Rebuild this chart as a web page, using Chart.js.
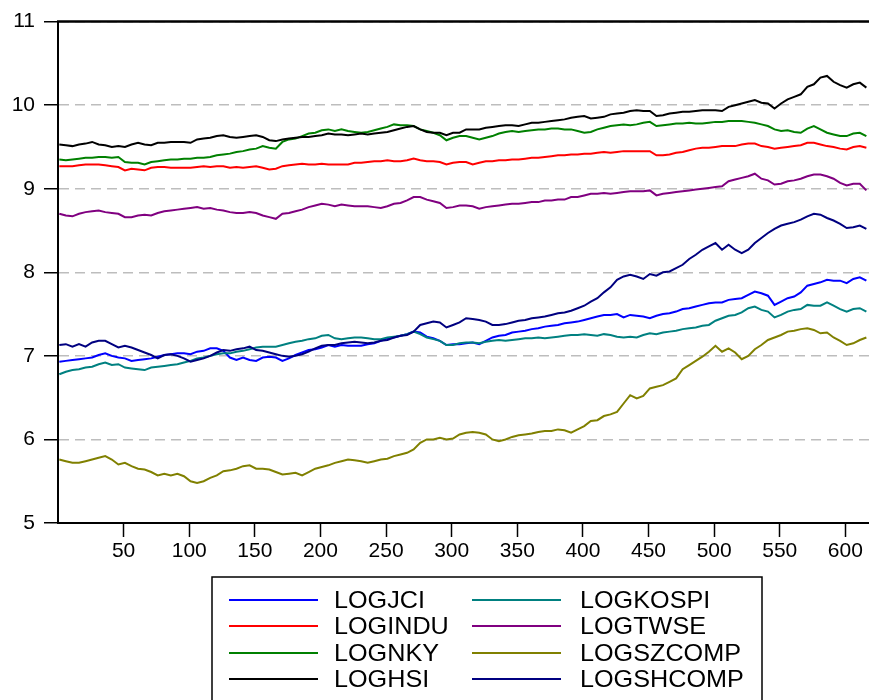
<!DOCTYPE html>
<html>
<head>
<meta charset="utf-8">
<script src="https://cdn.jsdelivr.net/npm/chart.js@4.4.1/dist/chart.umd.min.js"></script>
<style>
  html, body { margin: 0; padding: 0; background: #ffffff; }
  #wrap { width: 869px; height: 700px; position: relative; }
  canvas { display: block; }
</style>
</head>
<body>
<div id="wrap"><canvas id="chart" width="869" height="700"></canvas></div>
<script>
// Observation index: every 5th trading day starting at observation 1
const obsFirst = 1;
const obsStep = 5;

const seriesNames = ['LOGJCI', 'LOGINDU', 'LOGNKY', 'LOGHSI', 'LOGKOSPI', 'LOGTWSE', 'LOGSZCOMP', 'LOGSHCOMP'];
const seriesColors = ['#0000ff', '#ff0000', '#008000', '#000000', '#008080', '#800080', '#808000', '#000080'];

const logJCI = [
  6.93,6.94,6.95,6.96,6.97,6.98,7.01,7.03,7.00,6.98,
  6.97,6.94,6.95,6.96,6.97,6.99,7.01,7.02,7.03,7.03,
  7.02,7.05,7.06,7.09,7.09,7.06,6.98,6.95,6.98,6.95,
  6.94,6.98,6.99,6.98,6.94,6.97,7.01,7.04,7.07,7.08,
  7.10,7.13,
  7.11,7.13,7.12,7.12,7.12,7.14,7.15,7.18,7.21,7.22,
  7.24,7.26,7.29,7.28,7.23,7.21,7.18,7.13,7.14,7.14,
  7.15,7.16,7.14,7.18,7.22,7.24,7.25,7.28,7.29,7.30,
  7.32,7.33,7.35,7.36,7.37,7.39,7.40,7.41,7.43,7.45,
  7.47,7.49,
  7.49,7.50,7.46,7.49,7.48,7.47,7.45,7.48,7.50,7.51,
  7.53,7.56,7.57,7.59,7.61,7.63,7.64,7.64,7.67,7.68,
  7.69,7.73,7.77,7.75,7.72,7.61,7.65,7.69,7.71,7.76,
  7.84,7.86,7.88,7.91,7.90,7.90,7.87,7.92,7.94,7.90
];

const logINDU = [
  9.27,9.27,9.27,9.28,9.29,9.29,9.29,9.28,9.27,9.26,
  9.22,9.24,9.23,9.22,9.25,9.26,9.26,9.25,9.25,9.25,
  9.25,9.26,9.27,9.26,9.27,9.27,9.25,9.26,9.25,9.26,
  9.27,9.25,9.23,9.24,9.27,9.28,9.29,9.30,9.29,9.29,
  9.30,9.29,
  9.29,9.29,9.29,9.31,9.31,9.32,9.33,9.33,9.34,9.33,
  9.33,9.34,9.36,9.34,9.33,9.33,9.32,9.29,9.31,9.32,
  9.32,9.29,9.31,9.33,9.33,9.34,9.34,9.35,9.35,9.36,
  9.37,9.37,9.38,9.39,9.40,9.40,9.41,9.41,9.42,9.42,
  9.43,9.44,
  9.43,9.44,9.45,9.45,9.45,9.45,9.45,9.40,9.40,9.41,
  9.43,9.44,9.46,9.48,9.49,9.49,9.50,9.51,9.51,9.51,
  9.53,9.54,9.54,9.51,9.50,9.48,9.49,9.50,9.51,9.52,
  9.55,9.55,9.53,9.51,9.50,9.48,9.47,9.50,9.51,9.49
];

const logNKY = [
  9.35,9.34,9.35,9.36,9.37,9.37,9.38,9.38,9.37,9.38,
  9.32,9.31,9.31,9.29,9.32,9.33,9.34,9.35,9.35,9.36,
  9.36,9.37,9.37,9.38,9.40,9.41,9.42,9.44,9.45,9.47,
  9.48,9.51,9.49,9.48,9.56,9.59,9.60,9.63,9.66,9.67,
  9.70,9.71,
  9.69,9.71,9.69,9.68,9.67,9.68,9.70,9.72,9.74,9.77,
  9.76,9.76,9.75,9.71,9.69,9.67,9.64,9.58,9.61,9.63,
  9.63,9.61,9.59,9.61,9.63,9.66,9.68,9.69,9.68,9.69,
  9.70,9.71,9.71,9.72,9.72,9.71,9.71,9.69,9.67,9.68,
  9.71,9.73,
  9.75,9.76,9.77,9.76,9.77,9.79,9.80,9.75,9.76,9.77,
  9.78,9.78,9.79,9.78,9.78,9.79,9.80,9.80,9.81,9.81,
  9.81,9.80,9.79,9.77,9.75,9.71,9.69,9.70,9.68,9.67,
  9.72,9.75,9.71,9.67,9.65,9.63,9.63,9.66,9.67,9.63
];

const logHSI = [
  9.53,9.52,9.51,9.53,9.54,9.56,9.53,9.52,9.50,9.51,
  9.50,9.53,9.55,9.53,9.52,9.55,9.55,9.56,9.56,9.56,
  9.55,9.59,9.60,9.61,9.63,9.64,9.62,9.61,9.62,9.63,
  9.64,9.62,9.58,9.57,9.59,9.60,9.61,9.62,9.62,9.63,
  9.64,9.66,
  9.65,9.65,9.64,9.65,9.66,9.65,9.66,9.67,9.68,9.70,
  9.72,9.74,9.75,9.71,9.68,9.67,9.67,9.64,9.67,9.67,
  9.71,9.71,9.71,9.73,9.74,9.75,9.76,9.76,9.75,9.77,
  9.79,9.79,9.80,9.81,9.82,9.83,9.85,9.86,9.87,9.84,
  9.85,9.86,
  9.89,9.90,9.91,9.93,9.94,9.93,9.93,9.87,9.88,9.90,
  9.91,9.92,9.92,9.93,9.94,9.94,9.94,9.93,9.98,10.00,
  10.02,10.04,10.06,10.03,10.02,9.96,10.02,10.07,10.10,10.13,
  10.22,10.25,10.33,10.35,10.28,10.24,10.21,10.25,10.27,10.21
];

const logKOSPI = [
  6.78,6.81,6.83,6.84,6.86,6.87,6.90,6.92,6.89,6.90,
  6.86,6.85,6.84,6.83,6.86,6.87,6.88,6.89,6.90,6.92,
  6.94,6.97,6.98,7.00,7.02,7.03,7.03,7.05,7.06,7.08,
  7.10,7.11,7.11,7.11,7.13,7.15,7.17,7.18,7.20,7.21,
  7.24,7.25,
  7.21,7.20,7.21,7.22,7.22,7.21,7.20,7.20,7.22,7.23,
  7.24,7.26,7.29,7.26,7.22,7.20,7.18,7.13,7.13,7.15,
  7.16,7.16,7.15,7.17,7.18,7.19,7.18,7.19,7.20,7.21,
  7.21,7.22,7.21,7.22,7.23,7.24,7.25,7.25,7.26,7.25,
  7.24,7.26,
  7.25,7.23,7.22,7.23,7.22,7.25,7.27,7.26,7.28,7.29,
  7.30,7.32,7.33,7.34,7.36,7.37,7.42,7.45,7.48,7.49,
  7.52,7.57,7.59,7.55,7.53,7.46,7.49,7.53,7.55,7.56,
  7.61,7.60,7.60,7.64,7.60,7.56,7.53,7.56,7.57,7.53
];

const logTWSE = [
  8.70,8.68,8.67,8.70,8.72,8.73,8.74,8.72,8.71,8.70,
  8.66,8.66,8.68,8.69,8.68,8.71,8.73,8.74,8.75,8.76,
  8.77,8.78,8.76,8.77,8.75,8.74,8.72,8.71,8.71,8.72,
  8.71,8.68,8.66,8.64,8.70,8.71,8.73,8.75,8.78,8.80,
  8.82,8.81,
  8.79,8.81,8.80,8.79,8.79,8.79,8.78,8.77,8.79,8.82,
  8.83,8.86,8.90,8.90,8.87,8.85,8.83,8.77,8.78,8.80,
  8.80,8.79,8.76,8.78,8.79,8.80,8.81,8.82,8.82,8.83,
  8.84,8.84,8.86,8.86,8.87,8.87,8.90,8.90,8.92,8.94,
  8.94,8.95,
  8.94,8.95,8.96,8.97,8.97,8.97,8.98,8.92,8.94,8.95,
  8.96,8.97,8.98,8.99,9.00,9.01,9.02,9.03,9.09,9.11,
  9.13,9.15,9.18,9.12,9.10,9.05,9.06,9.09,9.10,9.12,
  9.15,9.17,9.17,9.15,9.12,9.07,9.04,9.06,9.06,8.98
];

const logSZCOMP = [
  5.76,5.74,5.72,5.72,5.74,5.76,5.78,5.80,5.76,5.70,
  5.72,5.68,5.65,5.64,5.61,5.57,5.59,5.57,5.59,5.56,
  5.50,5.48,5.50,5.54,5.57,5.62,5.63,5.65,5.68,5.69,
  5.65,5.65,5.64,5.61,5.58,5.59,5.60,5.57,5.61,5.65,
  5.67,5.69,
  5.72,5.74,5.76,5.75,5.74,5.72,5.74,5.76,5.77,5.80,
  5.82,5.84,5.88,5.96,6.00,6.00,6.02,6.00,6.01,6.06,
  6.08,6.09,6.08,6.06,6.00,5.98,6.00,6.03,6.05,6.06,
  6.07,6.09,6.10,6.10,6.12,6.11,6.08,6.12,6.16,6.22,
  6.23,6.28,
  6.30,6.33,6.43,6.53,6.49,6.52,6.61,6.63,6.65,6.69,
  6.73,6.84,6.89,6.94,6.99,7.05,7.12,7.05,7.09,7.04,
  6.96,7.00,7.08,7.13,7.19,7.22,7.25,7.29,7.30,7.32,
  7.33,7.31,7.27,7.28,7.22,7.18,7.13,7.15,7.19,7.22
];

const logSHCOMP = [
  7.13,7.14,7.11,7.14,7.11,7.16,7.18,7.18,7.14,7.10,
  7.12,7.10,7.07,7.04,7.01,6.97,7.01,7.02,7.00,6.97,
  6.93,6.95,6.97,7.00,7.04,7.07,7.06,7.08,7.09,7.11,
  7.07,7.06,7.04,7.02,7.00,6.99,7.00,7.02,7.05,7.09,
  7.12,7.13,
  7.13,7.15,7.16,7.17,7.16,7.15,7.16,7.18,7.19,7.22,
  7.24,7.25,7.29,7.37,7.39,7.41,7.40,7.34,7.37,7.40,
  7.45,7.44,7.43,7.41,7.37,7.37,7.38,7.40,7.42,7.43,
  7.45,7.46,7.47,7.49,7.51,7.52,7.54,7.57,7.60,7.65,
  7.69,7.76,
  7.82,7.91,7.95,7.97,7.95,7.92,7.98,7.96,8.00,8.01,
  8.05,8.09,8.16,8.21,8.27,8.31,8.35,8.27,8.33,8.27,
  8.23,8.27,8.35,8.41,8.47,8.52,8.56,8.58,8.60,8.63,
  8.67,8.70,8.69,8.65,8.62,8.58,8.53,8.54,8.56,8.52
];

const xTickValues = [50, 100, 150, 200, 250, 300, 350, 400, 450, 500, 550, 600];
const yTickValues = [5, 6, 7, 8, 9, 10, 11];

const allSeries = [logJCI, logINDU, logNKY, logHSI, logKOSPI, logTWSE, logSZCOMP, logSHCOMP];

const FONT = "'Liberation Sans', Arial, Helvetica, sans-serif";

const datasets = allSeries.map((values, i) => ({
  label: seriesNames[i],
  data: values.map((v, k) => ({ x: obsFirst + k * obsStep, y: v })),
  borderColor: seriesColors[i],
  backgroundColor: seriesColors[i],
  borderWidth: 2,
  pointRadius: 0,
  tension: 0,
  fill: false,
  order: allSeries.length - 1 - i
}));

// Top frame line plus the two-column key drawn under the plot
const frameAndKey = {
  id: 'frameAndKey',
  afterDraw(chart) {
    const { ctx, chartArea } = chart;
    ctx.save();
    ctx.strokeStyle = '#000';
    ctx.lineWidth = 2.5;
    ctx.beginPath();
    ctx.moveTo(chartArea.left - 1, chartArea.top);
    ctx.lineTo(chartArea.right, chartArea.top);
    ctx.stroke();

    // key frame (open at the bottom edge of the page)
    ctx.lineWidth = 1.5;
    ctx.strokeStyle = '#000';
    ctx.strokeRect(212, 577, 550, 130);

    const rowY = [600, 626, 653, 679];
    const lineX = [[229, 318], [472, 561]];
    const textX = [334, 580];
    ctx.font = '24px ' + FONT;
    ctx.textBaseline = 'middle';
    ctx.textAlign = 'left';
    chart.data.datasets.forEach((ds, i) => {
      const col = Math.floor(i / 4);
      const row = i % 4;
      const y = rowY[row];
      ctx.strokeStyle = ds.borderColor;
      ctx.lineWidth = 2;
      ctx.beginPath();
      ctx.moveTo(lineX[col][0], y);
      ctx.lineTo(lineX[col][1], y);
      ctx.stroke();
      ctx.fillStyle = '#000';
      ctx.save();
      ctx.translate(textX[col], y + 1);
      ctx.scale(1.05, 1);
      ctx.fillText(ds.label, 0, 0);
      ctx.restore();
    });
    ctx.restore();
  }
};

new Chart(document.getElementById('chart'), {
  type: 'line',
  data: { datasets },
  plugins: [frameAndKey],
  options: {
    responsive: false,
    animation: false,
    devicePixelRatio: 1,
    layout: { padding: { top: 19, right: 0, bottom: 130, left: 0 } },
    plugins: {
      legend: { display: false },
      tooltip: { enabled: false },
      title: { display: false }
    },
    scales: {
      x: {
        type: 'linear',
        min: 0,
        max: 618,
        afterBuildTicks(scale) {
          scale.ticks = xTickValues.map(v => ({ value: v }));
        },
        afterFit(scale) { scale.height = 47; },
        grid: {
          display: true,
          drawOnChartArea: false,
          drawTicks: true,
          tickLength: 14,
          tickWidth: 1.5,
          tickColor: '#000'
        },
        border: { display: true, color: '#000', width: 2 },
        ticks: {
          autoSkip: false,
          maxRotation: 0,
          padding: 2,
          color: '#000',
          font: { family: FONT, size: 21 }
        }
      },
      y: {
        type: 'linear',
        min: 5,
        max: 11,
        afterBuildTicks(scale) {
          scale.ticks = yTickValues.map(v => ({ value: v }));
        },
        afterFit(scale) { scale.width = 58; },
        grid: {
          display: true,
          drawOnChartArea: true,
          drawTicks: true,
          color: '#bdbdbd',
          lineWidth: 1.5,
          tickLength: 14,
          tickWidth: 1.5,
          tickColor: '#000',
          tickBorderDash: []
        },
        border: { display: true, color: '#000', width: 2, dash: [10, 6] },
        ticks: {
          padding: 9,
          color: '#000',
          font: { family: FONT, size: 21 }
        }
      }
    }
  }
});
</script>
</body>
</html>
